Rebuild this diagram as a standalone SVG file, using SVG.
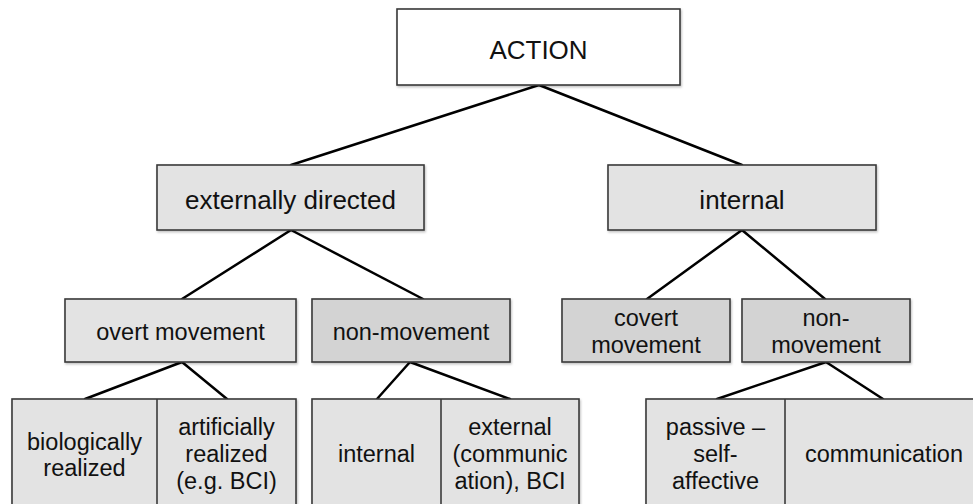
<svg xmlns="http://www.w3.org/2000/svg" width="973" height="504" viewBox="0 0 973 504">
  <defs>
    <filter id="shadow" x="-5%" y="-5%" width="110%" height="120%">
      <feDropShadow dx="1" dy="1.5" stdDeviation="1" flood-color="#000" flood-opacity="0.25"/>
    </filter>
  </defs>
  <style>
    .box { stroke: #3a3a3a; stroke-width: 1.6; filter: url(#shadow); }
    .white { fill: #ffffff; }
    .light { fill: #e3e3e3; }
    .dark { fill: #d3d3d3; }
    .sep { stroke: #3a3a3a; stroke-width: 1.6; }
    text { font-family: "Liberation Sans", Arial, sans-serif; fill: #111; text-anchor: middle; }
    .big { font-size: 26px; }
    .mid { font-size: 23.5px; }
    .edge { stroke: #000; stroke-width: 2.5; fill: none; stroke-linecap: round; }
  </style>

  <rect width="973" height="504" fill="#ffffff"/>

  <!-- tree connectors -->
  <g id="connectors">
    <line class="edge" x1="539" y1="85" x2="291" y2="165"/>
    <line class="edge" x1="539" y1="85" x2="742" y2="165"/>
    <line class="edge" x1="291" y1="230" x2="182" y2="299"/>
    <line class="edge" x1="291" y1="230" x2="423" y2="299"/>
    <line class="edge" x1="742" y1="230" x2="647" y2="299"/>
    <line class="edge" x1="742" y1="230" x2="825" y2="299"/>
    <line class="edge" x1="182" y1="362" x2="85" y2="399"/>
    <line class="edge" x1="182" y1="362" x2="227" y2="399"/>
    <line class="edge" x1="410" y1="362" x2="377" y2="399"/>
    <line class="edge" x1="410" y1="362" x2="510" y2="399"/>
    <line class="edge" x1="826" y1="362" x2="717" y2="399"/>
    <line class="edge" x1="826" y1="362" x2="883" y2="399"/>
  </g>

  <g id="action">
    <rect class="box white" x="397" y="9" width="283" height="76"/>
    <text class="big" x="538.5" y="59">ACTION</text>
  </g>

  <g id="externally-directed">
    <rect class="box light" x="157" y="165" width="267" height="65"/>
    <text class="big" x="290.5" y="209">externally directed</text>
  </g>

  <g id="internal">
    <rect class="box light" x="608" y="165" width="268" height="65"/>
    <text class="big" x="742" y="209">internal</text>
  </g>

  <g id="overt-movement">
    <rect class="box light" x="65" y="299" width="231" height="63"/>
    <text class="mid" x="180.5" y="340">overt movement</text>
  </g>

  <g id="non-movement-ext">
    <rect class="box dark" x="312" y="299" width="198" height="63"/>
    <text class="mid" x="411" y="340">non-movement</text>
  </g>

  <g id="covert-movement">
    <rect class="box dark" x="562" y="299" width="168" height="63"/>
    <text class="mid" x="646" y="326">covert</text>
    <text class="mid" x="646" y="353">movement</text>
  </g>

  <g id="non-movement-int">
    <rect class="box dark" x="742" y="299" width="168" height="63"/>
    <text class="mid" x="826" y="326">non-</text>
    <text class="mid" x="826" y="353">movement</text>
  </g>

  <g id="overt-realization">
    <rect class="box light" x="12" y="399" width="284" height="130"/>
    <line class="sep" x1="157" y1="399" x2="157" y2="529"/>
    <text class="mid" x="84.5" y="450">biologically</text>
    <text class="mid" x="84.5" y="476">realized</text>
    <text class="mid" x="226.5" y="435">artificially</text>
    <text class="mid" x="226.5" y="462">realized</text>
    <text class="mid" x="226.5" y="489">(e.g. BCI)</text>
  </g>

  <g id="non-movement-ext-kinds">
    <rect class="box light" x="312" y="399" width="267" height="130"/>
    <line class="sep" x1="441" y1="399" x2="441" y2="529"/>
    <text class="mid" x="376.5" y="462">internal</text>
    <text class="mid" x="510" y="435">external</text>
    <text class="mid" x="510" y="462">(communic</text>
    <text class="mid" x="510" y="489">ation), BCI</text>
  </g>

  <g id="non-movement-int-kinds">
    <rect class="box light" x="646" y="399" width="340" height="130"/>
    <line class="sep" x1="785" y1="399" x2="785" y2="529"/>
    <text class="mid" x="715.5" y="435">passive –</text>
    <text class="mid" x="715.5" y="462">self-</text>
    <text class="mid" x="715.5" y="489">affective</text>
    <text class="mid" x="884" y="462">communication</text>
  </g>
</svg>
